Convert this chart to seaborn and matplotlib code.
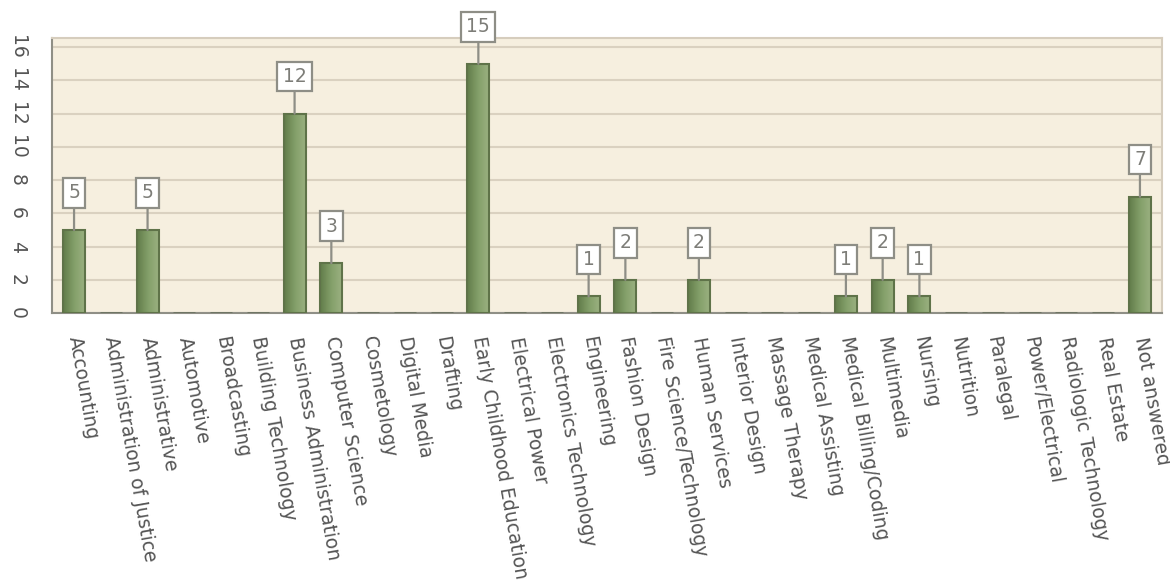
import numpy as np
import pandas as pd
import matplotlib
matplotlib.use("Agg")
import matplotlib.pyplot as plt
import seaborn as sns
from matplotlib.colors import LinearSegmentedColormap

# categories and counts
programmes = [
    "Accounting", "Administration of Justice", "Administrative", "Automotive",
    "Broadcasting", "Building Technology", "Business Administration",
    "Computer Science", "Cosmetology", "Digital Media", "Drafting",
    "Early Childhood Education", "Electrical Power", "Electronics Technology",
    "Engineering", "Fashion Design", "Fire Science/Technology", "Human Services",
    "Interior Design", "Massage Therapy", "Medical Assisting",
    "Medical Billing/Coding", "Multimedia", "Nursing", "Nutrition", "Paralegal",
    "Power/Electrical", "Radiologic Technology", "Real Estate", "Not answered",
]
counts = [5, 0, 5, 0, 0, 0, 12, 3, 0, 0, 0, 15, 0, 0, 1, 2, 0, 2, 0, 0, 0,
          1, 2, 1, 0, 0, 0, 0, 0, 7]
y_ticks = [0, 2, 4, 6, 8, 10, 12, 14, 16]

df = pd.DataFrame({"Programme": programmes, "Count": counts})

sns.set_style("white")
plt.rcParams["font.family"] = ["DejaVu Sans"]

fig = plt.figure(figsize=(11.7, 5.84), dpi=100)
ax = fig.add_axes([52 / 1170, 1 - 313 / 584, 1110 / 1170, 275 / 584])
ax.set_facecolor("#f6efdf")

sns.barplot(data=df, x="Programme", y="Count", ax=ax, width=0.6,
            color="#7f9964", edgecolor="#5f7349", linewidth=1.5,
            saturation=1, zorder=3)

# horizontal gradient inside each bar (dark left, light right)
grad = LinearSegmentedColormap.from_list("g", ["#627c4a", "#84a06a", "#9db283"])
ramp = np.linspace(0, 1, 64).reshape(1, -1)
for p in ax.patches:
    h = p.get_height()
    if h > 0:
        x0 = p.get_x()
        im = ax.imshow(ramp, cmap=grad, aspect="auto", zorder=3.5,
                       extent=(x0, x0 + p.get_width(), 0, h), origin="lower")
        im.set_clip_path(p)
        p.set_facecolor("none")
        p.set_zorder(4)
    else:
        p.set_edgecolor("#6a7260")
        p.set_linewidth(2)
ax.set_xlim(-0.6, len(programmes) - 0.4)
ax.set_ylim(0, 16.55)

# value boxes
for i, v in enumerate(counts):
    if v > 0:
        ax.annotate(str(v), xy=(i, v), xytext=(0, 37), textcoords="offset pixels",
                    ha="center", va="center", fontsize=13.5, color="#7d7d78",
                    bbox=dict(boxstyle="square,pad=0.28", fc="white", ec="#8e8e86", lw=1.6),
                    arrowprops=dict(arrowstyle="-", color="#8e8e86", lw=1.6,
                                    shrinkA=0, shrinkB=0),
                    zorder=6, annotation_clip=False)

ax.set_yticks(y_ticks)
ax.set_yticklabels([str(t) for t in y_ticks], rotation=-90, va="center",
                   fontsize=13.5, color="#555555")
ax.grid(axis="y", color="#dad1c0", linewidth=1.5, zorder=0)
ax.set_axisbelow(True)

ax.set_xticks(range(len(programmes)))
ax.set_xticklabels(programmes, rotation=-80, ha="left", va="center",
                   rotation_mode="anchor", fontsize=13.5, color="#555555")
ax.tick_params(axis="x", length=7, width=1, color="#a0a098", pad=10)
ax.tick_params(axis="y", length=6, width=1, color="#a0a098", pad=12)
ax.set_xlabel("")
ax.set_ylabel("")

for side in ["left", "bottom"]:
    ax.spines[side].set_color("#8f8f86")
    ax.spines[side].set_linewidth(1.5)
for side in ["top", "right"]:
    ax.spines[side].set_color("#d6cdbd")
    ax.spines[side].set_linewidth(1.5)
    ax.spines[side].set_visible(True)

fig.savefig("out.png", dpi=100, facecolor="white")
